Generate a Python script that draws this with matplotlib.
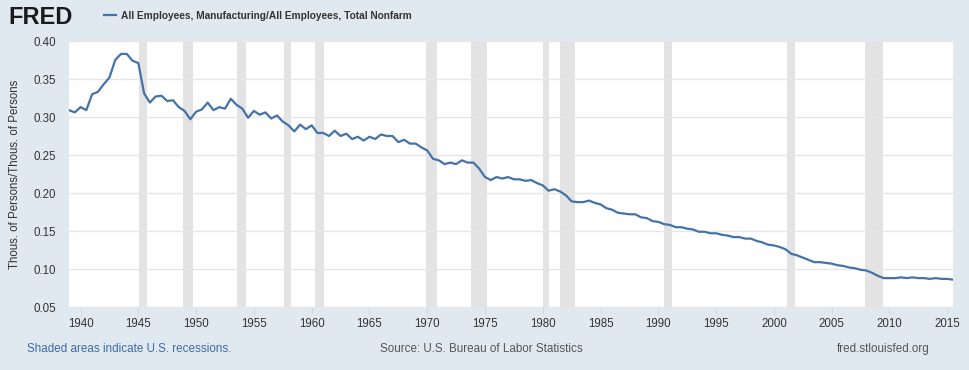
import matplotlib.pyplot as plt
from matplotlib.lines import Line2D
import numpy as np

# ======================
# DATA
# ======================
# Manufacturing / total nonfarm employment, semi-annual, 1939.0 .. 2015.5
first_year = 1939.0
ratio_1939_1959 = [0.309, 0.306, 0.313, 0.309, 0.330, 0.333, 0.343, 0.352, 0.375, 0.383,
                   0.383, 0.374, 0.371, 0.331, 0.319, 0.327, 0.328, 0.321, 0.322, 0.313,
                   0.308, 0.297, 0.307, 0.310, 0.319, 0.309, 0.313, 0.311, 0.324, 0.316,
                   0.311, 0.299, 0.308, 0.303, 0.306, 0.298, 0.302, 0.294, 0.289, 0.281,
                   0.290, 0.284]
ratio_1960_1979 = [0.289, 0.279, 0.279, 0.275, 0.282, 0.275, 0.278, 0.271, 0.274, 0.269,
                   0.274, 0.271, 0.277, 0.275, 0.275, 0.267, 0.270, 0.265, 0.265, 0.260,
                   0.256, 0.245, 0.243, 0.238, 0.240, 0.238, 0.243, 0.240, 0.240, 0.232,
                   0.221, 0.217, 0.221, 0.219, 0.221, 0.218, 0.218, 0.216, 0.217, 0.213]
ratio_1980_1999 = [0.210, 0.203, 0.205, 0.202, 0.197, 0.189, 0.188, 0.188, 0.190, 0.187,
                   0.185, 0.180, 0.178, 0.174, 0.173, 0.172, 0.172, 0.168, 0.167, 0.163,
                   0.162, 0.159, 0.158, 0.155, 0.155, 0.153, 0.152, 0.149, 0.149, 0.147,
                   0.147, 0.145, 0.144, 0.142, 0.142, 0.140, 0.140, 0.137, 0.135, 0.132]
ratio_2000_2015 = [0.131, 0.129, 0.126, 0.120, 0.118, 0.115, 0.112, 0.109, 0.109, 0.108,
                   0.107, 0.105, 0.104, 0.102, 0.101, 0.099, 0.098, 0.095, 0.091, 0.088,
                   0.088, 0.088, 0.089, 0.088, 0.089, 0.088, 0.088, 0.087, 0.088, 0.087,
                   0.087, 0.086]
ratio = ratio_1939_1959 + ratio_1960_1979 + ratio_1980_1999 + ratio_2000_2015
dates = first_year + 0.5 * np.arange(len(ratio))

# NBER recessions (decimal years)
rec_start = [1945.08, 1948.83, 1953.50, 1957.58, 1960.25, 1969.92, 1973.83, 1980.0, 1981.50, 1990.50, 2001.17, 2007.92]
rec_end = [1945.75, 1949.75, 1954.33, 1958.25, 1961.08, 1970.83, 1975.17, 1980.5, 1982.83, 1991.17, 2001.83, 2009.42]

x_ticks = list(range(1940, 2016, 5))
y_ticks = [0.05, 0.10, 0.15, 0.20, 0.25, 0.30, 0.35, 0.40]

# ======================
# STYLE
# ======================
bg = "#e1e9f0"
line_color = "#4572a7"
text_color = "#333333"
plt.rcParams['font.family'] = ['Liberation Sans', 'DejaVu Sans']

fig = plt.figure(figsize=(9.7, 3.7), dpi=100, facecolor=bg)
ax = fig.add_axes([69 / 970, 1 - 307 / 370, 884 / 970, 266 / 370])
ax.set_facecolor("white")

# recession bars
for s, e in zip(rec_start, rec_end):
    ax.axvspan(s, e, color="#e3e3e3", lw=0, zorder=1)

line, = ax.plot(dates, ratio, color=line_color, lw=1.6, zorder=3)

ax.set_xlim(dates[0], dates[-1])
ax.set_ylim(0.05, 0.40)
ax.set_xticks(x_ticks)
ax.set_yticks(y_ticks)
ax.set_yticklabels([f"{v:.2f}" for v in y_ticks])
ax.grid(axis="y", color="#e6e6e6", lw=1, zorder=2)
for sp in ax.spines.values():
    sp.set_visible(False)
ax.tick_params(axis="y", length=0, pad=9.5, labelsize=8.3, labelcolor=text_color)
ax.tick_params(axis="x", length=5, width=0.8, color="#d8d8d8", pad=3,
               labelsize=8.3, labelcolor=text_color)

ax.set_ylabel("Thous. of Persons/Thous. of Persons", fontsize=8.3, color=text_color, labelpad=9)

# ======================
# HEADER / FOOTER
# ======================
fig.text(8 / 970, 1 - 17 / 370, "FRED", fontsize=17, fontweight="heavy", color="#1a1a1a",
         va="center", ha="left")
fig.legend(handles=[Line2D([], [], color=line_color, lw=1.6)],
           labels=["All Employees, Manufacturing/All Employees, Total Nonfarm"],
           loc="center left", bbox_to_anchor=(100 / 970, 1 - 16 / 370),
           frameon=False, handlelength=1.2, handletextpad=0.45, borderaxespad=0,
           prop={'weight': 'bold', 'size': 7.3},
           labelcolor=text_color)

fig.text(27 / 970, 1 - 349 / 370, "Shaded areas indicate U.S. recessions.", fontsize=8.4,
         color="#3d6ba3", va="center", ha="left")
fig.text(380 / 970, 1 - 349 / 370, "Source: U.S. Bureau of Labor Statistics", fontsize=8.4,
         color="#555555", va="center", ha="left")
fig.text(930 / 970, 1 - 349 / 370, "fred.stlouisfed.org", fontsize=8.4,
         color="#555555", va="center", ha="right")

fig.savefig("out.png", dpi=100, facecolor=bg)
